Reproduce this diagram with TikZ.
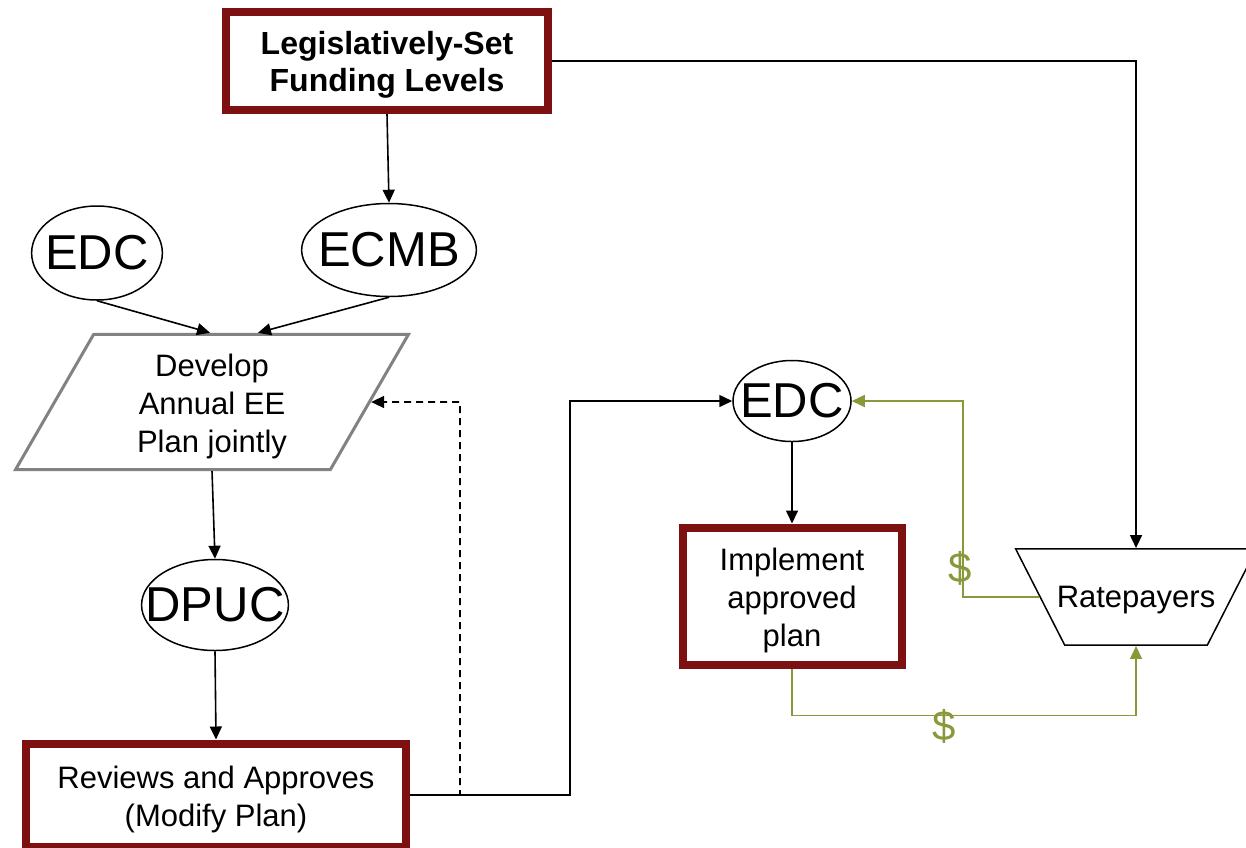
\documentclass[tikz,border=0pt]{standalone}
\usepackage{fontspec}
\setmainfont{Liberation Sans}
\usetikzlibrary{arrows.meta,positioning,shapes.geometric}
\definecolor{boxred}{RGB}{125,17,17}
\definecolor{cashgreen}{RGB}{137,152,58}
\definecolor{plangray}{RGB}{130,130,130}
\newcommand{\topstrut}[1][31pt]{\rule{0pt}{#1}}

\begin{document}
\begin{tikzpicture}[x=1pt,y=-1pt,
      redbox/.style={draw=boxred, line width=8pt, fill=white, align=center,
                     inner sep=0pt, font=\fontsize{31}{38}\selectfont},
      actor/.style={draw, ellipse, line width=1.5pt, fill=white, inner ysep=0pt,
                    font=\fontsize{49}{50}\selectfont},
      plan/.style={draw=plangray, line width=3pt, fill=white, trapezium,
                   trapezium left angle=60, trapezium right angle=120,
                   trapezium stretches body, align=center,
                   inner xsep=0pt, inner ysep=11pt, minimum width=393pt,
                   font=\fontsize{31}{38}\selectfont},
      payer/.style={draw, line width=1.5pt, fill=white, trapezium,
                    trapezium left angle=117, trapezium right angle=117,
                    inner xsep=-8pt, inner ysep=31pt,
                    font=\fontsize{31}{38}\selectfont},
      arr/.style={-{Triangle[length=13pt,width=12pt]}, line width=1.6pt},
      cash/.style={-{Triangle[length=13pt,width=12pt]}, line width=1.6pt, color=cashgreen},
      dollar/.style={font=\fontsize{42}{42}\selectfont, text=cashgreen, inner sep=0pt}
  ]
    \useasboundingbox (0,0) rectangle (1246,847);
    % left column
    \node[redbox, font=\fontsize{32}{37}\selectfont\bfseries,
          minimum width=322pt, minimum height=98pt] (lsf) at (387,61) {\topstrut Legislatively-Set\\Funding Levels};
    \node[actor, inner xsep=-5.5pt, minimum height=94pt] (edc)  at (97,253)  {EDC};
    \node[actor, inner xsep=-9pt, minimum height=93pt] (ecmb) at (389,250) {ECMB};
    \node[plan] (dev) at (212,402) {\topstrut Develop\\Annual EE\\Plan jointly};
    \node[actor, inner xsep=-17.5pt, minimum height=91pt] (dpuc) at (215,605) {DPUC};
    \node[redbox, minimum width=380pt, minimum height=103pt] (rev) at (216,795) {\topstrut Reviews and Approves\\(Modify Plan)};
    % right side
    \node[actor, inner xsep=-10pt, minimum height=81pt] (edcb) at (792,401) {EDC};
    \node[redbox, minimum width=219pt, minimum height=137pt] (impl) at (792,596) {\topstrut Implement\\approved\\plan};
    \node[payer] (rate) at (1136,597) {\topstrut[28pt]Ratepayers};
    \coordinate (jn) at (570,401);
    \coordinate (back) at (460,402);
    \coordinate (gc) at (963,597);
    \node[dollar] (d1) at (944,726) {\$};
    \node[dollar] (d2) at (960,568) {\$};

    \draw[arr] (lsf.south) -- (ecmb.north);
    \draw[arr] (lsf.east) -| (rate.north);
    \draw[arr] (edc.south) -- ([xshift=-2pt]dev.north);
    \draw[arr] (ecmb.south) -- ([xshift=46pt]dev.north);
    \draw[arr] (dev.south) -- (dpuc.north);
    \draw[arr] (dpuc.south) -- (rev.north);
    \draw[arr] (rev.east) -| (jn) -- (edcb.west);
    \draw[arr, dash pattern=on 7pt off 5pt] (rev.east) -| (back) -- (dev.east);
    \draw[arr] (edcb.south) -- (impl.north);
    \draw[cash] (impl.south) -- ++(0,47) -| (rate.south);
    \draw[cash] (rate.west) -- (gc) |- (edcb.east);
  \end{tikzpicture}
\end{document}
